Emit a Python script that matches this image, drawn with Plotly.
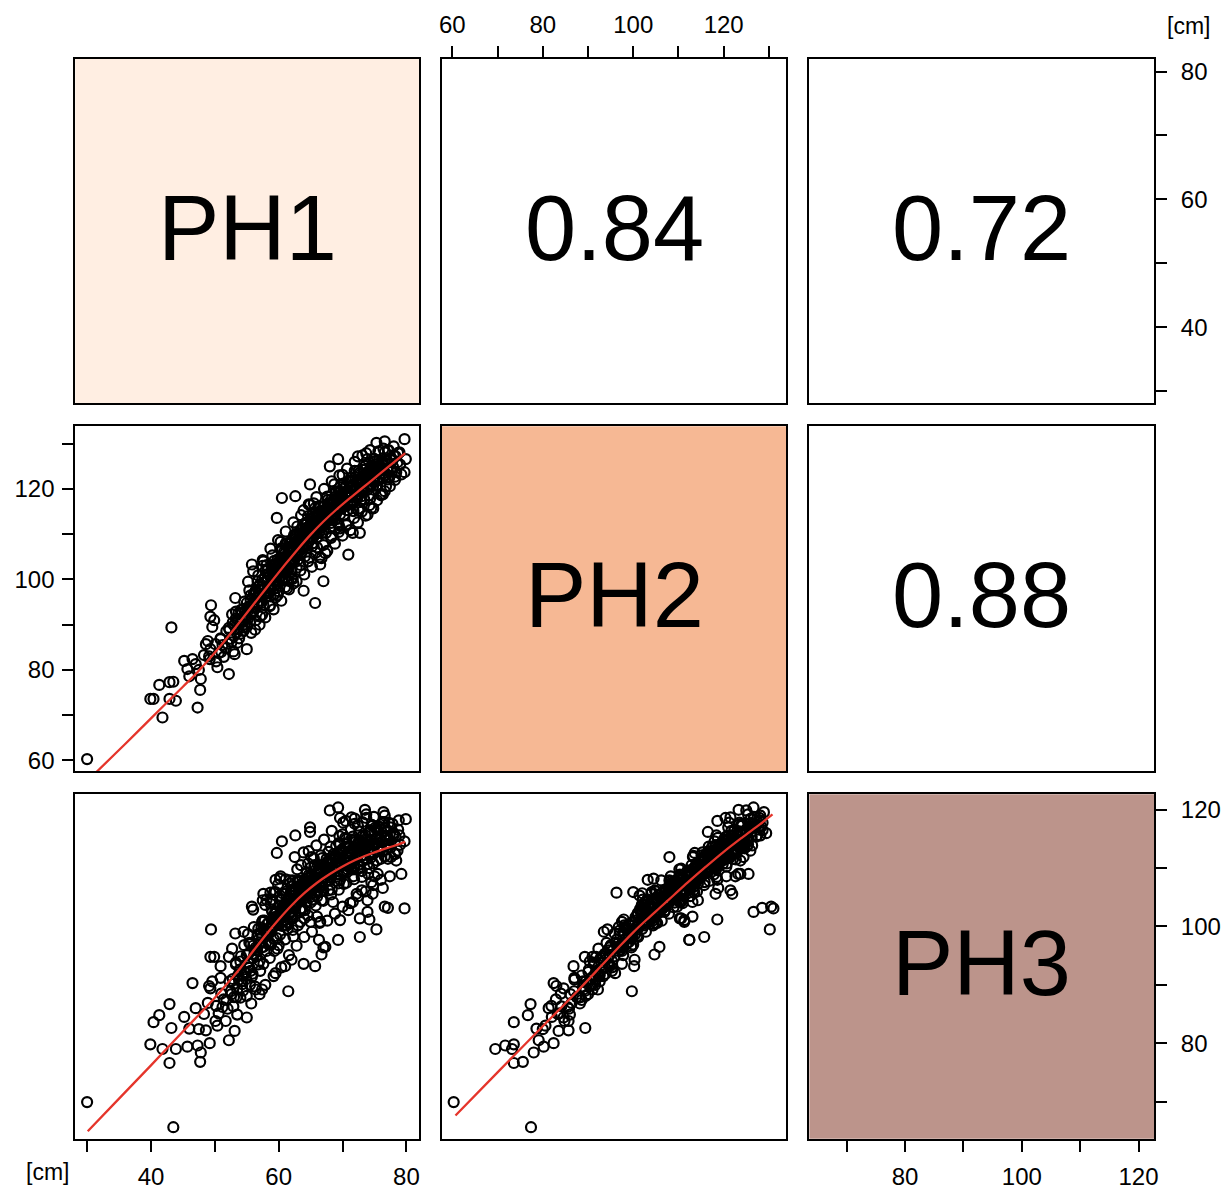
import plotly.graph_objects as go

# ---------------- data (cm), one tuple per plant: (PH1, PH2, PH3) ----------------
tail_obs = [
    (30.0, 60.3, 69.9), (43.5, 77.4, 65.6), (39.9, 73.6, 79.8), (40.4, 73.6, 83.6),
    (41.3, 76.7, 84.8), (41.8, 69.5, 79.0), (42.9, 77.3, 86.7), (42.9, 73.6, 76.6),
    (43.9, 73.2, 79.0), (43.2, 89.4, 82.6), (45.2, 82.0, 84.5), (46.5, 82.4, 90.3),
    (47.3, 71.7, 79.6), (47.7, 75.6, 76.8), (45.7, 80.2, 79.4), (47.8, 78.0, 78.4),
    (47.0, 81.3, 86.0), (49.2, 82.4, 80.0), (48.6, 85.7, 82.2), (47.5, 80.0, 82.4),
    (46.0, 78.6, 82.5), (50.1, 85.7, 83.8), (49.4, 94.3, 99.5), (49.3, 91.8, 94.8),
    (49.1, 83.0, 89.8), (49.3, 84.6, 89.4), (50.9, 87.0, 91.2), (48.3, 83.3, 85.0),
    (48.9, 86.4, 86.9), (49.9, 91.0, 94.8), (50.4, 80.6, 83.0), (49.6, 89.5, 90.6),
]
low_obs = [
    (52.2, 79.1, 80.5), (53.1, 83.5, 82.1), (55.0, 84.6, 84.4), (53.5, 86.0, 84.9),
    (51.7, 84.8, 83.8), (54.0, 88.0, 87.8), (55.0, 89.5, 88.1), (56.4, 91.0, 89.2),
    (57.4, 92.2, 89.2), (53.2, 95.9, 98.8), (54.5, 93.5, 99.1), (56.1, 96.8, 99.9),
    (57.4, 97.5, 100.8), (55.8, 103.3, 103.4), (57.6, 104.0, 105.6), (52.7, 92.3, 96.2),
    (52.2, 89.3, 94.8), (54.0, 90.4, 94.0), (55.3, 94.0, 95.4), (50.9, 86.8, 93.2),
    (51.2, 85.5, 86.2), (51.8, 88.6, 87.4), (52.5, 86.9, 88.9), (53.0, 89.9, 90.2),
    (53.6, 91.2, 91.5), (54.2, 92.6, 90.6), (54.7, 90.1, 92.2), (55.2, 93.1, 93.0),
    (55.6, 95.3, 92.4), (56.0, 92.8, 94.6), (56.3, 97.2, 96.0), (56.8, 94.6, 93.5),
    (57.1, 99.0, 97.3), (50.6, 83.7, 85.1), (51.4, 82.9, 87.5), (52.0, 85.8, 85.9),
    (52.9, 84.1, 86.3), (53.4, 88.3, 87.9), (53.8, 87.0, 90.9), (54.4, 89.4, 89.0),
    (54.9, 91.8, 91.0), (55.5, 90.6, 90.0), (55.9, 93.9, 91.9), (56.5, 95.9, 94.9),
    (56.9, 96.4, 97.8), (57.3, 94.8, 96.4), (50.2, 81.9, 86.4), (51.0, 84.0, 88.5),
    (53.3, 92.9, 93.8), (54.6, 95.1, 96.8), (55.4, 97.6, 97.2), (56.7, 99.6, 98.6),
    (55.7, 88.2, 86.8), (57.0, 90.0, 88.4),
]
mid_obs = [
    (57.3, 98.3, 99.8), (57.6, 94.4, 93.6), (57.9, 101.9, 103.7), (58.1, 97.5, 95.8),
    (58.4, 101.2, 100.6), (58.6, 94.1, 97.2), (58.8, 100.0, 96.9), (59.0, 105.3, 104.6),
    (59.2, 97.9, 101.2), (59.4, 102.3, 100.6), (59.6, 99.8, 100.7), (59.8, 104.4, 100.5),
    (60.0, 97.4, 96.8), (60.2, 102.1, 104.6), (60.3, 108.3, 108.6), (60.5, 99.7, 100.1),
    (60.7, 104.9, 101.6), (60.9, 102.7, 103.7), (61.1, 108.0, 105.6), (61.3, 98.0, 100.2),
    (61.5, 105.3, 100.6), (61.6, 102.7, 102.0), (61.8, 108.3, 107.4), (62.0, 101.8, 102.6),
    (62.2, 106.2, 107.9), (62.3, 99.1, 98.3), (62.5, 108.9, 103.3), (62.7, 105.1, 104.8),
    (62.9, 111.7, 107.7), (63.0, 104.4, 100.2), (63.2, 108.2, 107.7), (63.4, 103.2, 102.7),
    (63.6, 111.1, 105.3), (63.7, 107.8, 106.7), (63.9, 115.3, 112.7), (64.1, 105.1, 102.8),
    (64.3, 110.6, 104.2), (64.4, 107.5, 105.6), (64.6, 114.0, 110.8), (64.8, 104.8, 106.2),
    (65.0, 110.9, 105.6), (65.1, 113.2, 111.9), (65.3, 108.0, 104.6), (65.5, 116.8, 111.7),
    (65.6, 110.3, 108.5), (65.8, 113.5, 105.8), (66.0, 107.1, 105.1), (66.2, 113.2, 109.8),
    (66.4, 110.6, 109.9), (66.5, 116.1, 109.7), (66.7, 110.2, 104.5), (66.9, 112.9, 110.5),
    (57.5, 103.0, 104.5), (58.0, 96.1, 97.2), (58.9, 102.5, 102.9), (59.3, 96.7, 95.8),
    (59.9, 102.1, 101.4), (60.4, 106.9, 102.5), (60.6, 102.0, 105.7), (61.0, 105.7, 103.9),
    (61.4, 102.0, 99.6), (61.9, 106.5, 105.9), (62.4, 109.8, 105.3), (62.8, 102.6, 104.1),
    (63.3, 109.7, 106.7), (63.8, 107.0, 102.8), (64.2, 112.5, 107.5), (64.7, 110.5, 108.8),
    (65.2, 107.3, 106.4), (65.7, 115.8, 110.4), (66.1, 111.6, 105.9), (66.6, 115.1, 112.2),
    (67.0, 111.9, 108.4), (63.5, 108.1, 105.5), (64.0, 110.6, 105.7), (64.5, 109.1, 106.8),
    (65.4, 112.0, 107.7), (65.9, 110.1, 107.4), (66.3, 112.6, 107.0), (62.1, 105.3, 104.1),
    (62.6, 107.5, 104.2), (61.2, 104.5, 104.0), (60.8, 101.9, 102.1), (60.1, 103.1, 101.7),
    (59.5, 100.5, 101.6), (63.1, 106.3, 105.7), (64.9, 110.5, 106.3), (65.0, 113.5, 110.1),
    (66.8, 113.6, 107.6), (61.7, 106.8, 103.3),
]
mid_extra_obs = [
    (64.9, 121.0, 117.0), (62.6, 118.4, 115.6), (60.5, 118.0, 114.6), (59.7, 113.6, 112.6),
    (64.9, 116.5, 116.2), (66.5, 103.3, 100.8), (67.0, 99.6, 96.4), (65.7, 94.8, 93.2),
    (59.5, 96.0, 92.0), (61.5, 99.7, 88.9), (61.0, 100.2, 93.2), (63.9, 97.5, 93.6),
    (67.3, 105.8, 96.5), (66.7, 104.7, 95.2), (62.0, 100.3, 94.3), (64.0, 110.6, 101.4),
    (65.0, 111.3, 100.8), (66.0, 113.1, 101.7), (66.3, 112.4, 97.7), (58.7, 96.3, 105.8),
    (59.5, 100.0, 105.9), (60.2, 101.4, 105.3), (59.5, 103.2, 108.0), (60.2, 104.5, 108.2),
    (62.5, 108.0, 111.9),
]
core_obs = [
    (58.2, 99.5, 99.0), (58.5, 97.0, 98.8), (59.1, 101.0, 100.2), (59.7, 99.0, 98.0),
    (60.0, 103.4, 103.5), (60.4, 100.9, 101.9), (60.8, 104.0, 101.9), (61.2, 102.2, 103.2),
    (61.5, 106.0, 104.9), (61.9, 103.6, 101.6), (62.1, 107.1, 106.0), (62.4, 104.2, 103.9),
    (62.7, 107.9, 104.1), (63.0, 105.6, 105.4), (63.3, 108.9, 106.9), (63.6, 106.0, 103.1),
    (63.9, 110.0, 107.1), (64.2, 107.8, 106.2), (64.5, 111.5, 106.2), (64.8, 109.0, 107.3),
    (65.1, 112.3, 108.9), (65.4, 109.3, 104.6), (65.7, 113.0, 107.4), (66.0, 110.9, 108.2),
    (66.3, 114.2, 110.0), (66.6, 111.4, 106.0), (66.9, 114.6, 108.3), (67.2, 112.1, 108.5),
    (67.5, 115.8, 111.6), (67.8, 113.9, 107.9), (68.1, 116.4, 109.3), (68.4, 114.1, 110.8),
    (68.7, 117.3, 111.9), (69.0, 114.6, 108.5), (69.3, 118.1, 110.3), (69.6, 115.9, 111.9),
    (69.9, 118.9, 113.2), (70.2, 116.1, 109.2), (70.5, 119.4, 112.0), (70.8, 117.0, 112.6),
    (71.1, 120.3, 111.9), (71.4, 117.4, 110.0), (71.7, 121.0, 114.7), (72.0, 118.2, 111.9),
    (72.3, 121.7, 112.6), (72.6, 118.9, 110.6), (72.9, 122.4, 115.3), (73.2, 119.6, 111.3),
    (73.5, 123.0, 113.3), (73.8, 120.3, 113.9), (74.1, 123.8, 116.1), (74.4, 120.9, 111.8),
    (74.7, 124.5, 114.2), (75.0, 121.8, 114.1), (75.4, 125.0, 116.6), (75.8, 122.4, 112.9),
    (76.2, 125.3, 114.6), (76.6, 123.0, 115.6), (77.0, 126.2, 115.4), (77.5, 124.1, 113.5),
    (61.0, 104.8, 102.4), (62.3, 106.3, 105.7), (63.5, 109.5, 104.8), (64.6, 110.0, 108.3),
    (65.9, 112.7, 106.9), (67.0, 113.4, 109.9), (68.2, 115.5, 108.9), (69.5, 117.0, 112.3),
    (70.6, 118.2, 110.4), (71.8, 119.6, 113.1), (73.0, 121.0, 112.2), (74.3, 122.6, 114.9),
    (75.6, 123.9, 113.4), (59.4, 101.8, 102.3), (60.6, 102.9, 100.8), (62.0, 104.6, 102.0),
    (63.2, 107.4, 104.5), (64.0, 109.2, 107.8), (65.3, 111.0, 106.4), (66.5, 112.9, 109.3),
]
core2_obs = [
    (52.3, 88.9, 90.6), (52.6, 86.1, 88.4), (52.8, 90.5, 91.0), (53.0, 87.5, 87.9),
    (53.3, 91.4, 93.5), (53.5, 89.0, 89.2), (53.7, 92.6, 91.7), (53.9, 90.2, 92.6),
    (54.1, 93.3, 94.9), (54.3, 91.0, 90.1), (54.5, 88.6, 91.6), (54.8, 92.1, 92.0),
    (55.0, 94.8, 95.1), (55.2, 91.3, 93.8), (55.4, 93.8, 92.9), (55.6, 96.5, 97.0),
    (55.8, 92.4, 91.4), (56.0, 95.0, 96.7), (56.2, 93.7, 95.3), (56.4, 97.6, 96.4),
    (56.6, 94.6, 95.9), (56.8, 98.4, 99.6), (57.0, 95.3, 94.1), (57.2, 97.8, 98.9),
    (57.4, 99.9, 98.2), (57.6, 96.6, 96.5), (57.8, 100.4, 101.0), (58.0, 97.0, 99.3),
    (58.2, 102.0, 100.4), (58.4, 98.5, 97.0),
    (58.6, 100.9, 99.5), (58.8, 98.2, 99.9), (59.0, 101.7, 102.5), (59.2, 99.6, 97.9),
    (59.4, 103.4, 101.6), (59.6, 101.0, 102.3), (59.8, 99.1, 100.4), (60.0, 103.9, 101.1),
    (60.2, 100.4, 98.6), (60.4, 104.6, 104.7), (60.6, 101.5, 103.0), (60.8, 106.0, 103.5),
    (61.0, 102.4, 100.2), (61.2, 105.1, 106.0), (61.4, 107.2, 104.3), (61.6, 103.3, 104.4),
    (61.8, 105.8, 102.4), (62.0, 108.1, 106.9), (62.2, 104.0, 101.4), (62.4, 106.9, 106.2),
    (62.6, 109.5, 104.8), (62.8, 105.2, 104.9), (63.0, 108.0, 106.8), (63.2, 110.2, 107.9),
    (63.4, 106.4, 103.0), (63.6, 109.0, 107.3), (63.8, 111.3, 106.4), (64.0, 107.1, 105.9),
    (64.2, 110.1, 104.9), (64.4, 112.2, 109.3), (64.6, 108.4, 106.9), (64.8, 111.0, 108.4),
    (65.0, 109.2, 104.1), (65.2, 112.8, 108.0), (65.4, 110.2, 107.6), (65.6, 114.0, 110.5),
    (65.8, 111.7, 106.1), (66.0, 109.3, 107.7), (66.2, 114.5, 109.6), (66.4, 112.0, 109.1),
    (66.6, 113.4, 106.8), (66.8, 115.2, 111.7), (67.0, 111.0, 106.2), (67.2, 116.4, 110.2),
    (67.4, 114.5, 109.6),
    (67.6, 112.9, 108.0), (67.8, 116.9, 112.8), (68.0, 114.8, 108.4), (68.2, 117.6, 111.0),
    (68.4, 113.6, 109.5), (68.6, 116.1, 112.4), (68.8, 118.2, 110.3), (69.0, 115.0, 111.2),
    (69.2, 117.8, 108.9), (69.4, 119.5, 114.3), (69.6, 114.4, 108.0), (69.8, 118.0, 112.9),
    (70.0, 115.9, 109.5), (70.2, 120.1, 111.4), (70.4, 117.5, 113.6), (70.6, 121.0, 115.0),
    (70.8, 116.4, 109.8), (71.0, 119.0, 110.9), (71.2, 121.9, 113.0), (71.4, 118.6, 112.5),
    (71.6, 120.6, 115.4), (71.8, 117.1, 110.0), (72.0, 122.6, 114.5), (72.2, 120.0, 112.0),
    (72.4, 118.3, 109.8), (72.6, 123.5, 116.3), (72.8, 121.1, 113.0), (73.0, 119.4, 113.9),
    (73.3, 124.2, 114.3), (73.6, 121.9, 115.6), (73.9, 119.8, 110.7), (74.2, 122.9, 112.7),
    (74.5, 125.1, 116.4), (74.8, 122.0, 112.4), (75.1, 124.4, 114.2), (75.4, 121.8, 115.0),
    (75.7, 126.4, 117.1), (76.0, 124.6, 113.4), (76.3, 122.3, 112.9), (76.7, 125.6, 116.8),
    (77.1, 123.9, 114.1), (77.5, 126.8, 117.0), (77.9, 124.9, 115.9), (78.3, 127.2, 115.4),
    (79.0, 125.4, 114.0),
]
spread_obs = [
    (55.2, 99.5, 98.7), (56.0, 101.8, 102.9), (56.8, 100.9, 98.4), (57.5, 104.3, 101.0),
    (58.1, 103.2, 104.6), (58.7, 106.8, 103.9), (59.3, 104.1, 105.9), (59.9, 108.7, 107.2),
    (60.5, 106.4, 103.2), (61.1, 110.6, 108.1), (61.7, 108.0, 107.9), (62.3, 112.6, 106.4),
    (62.9, 110.2, 109.8), (63.5, 114.2, 110.5), (64.1, 112.1, 106.9), (64.7, 116.6, 112.9),
    (65.3, 114.3, 108.7), (65.9, 118.2, 113.9), (66.5, 115.9, 110.0), (67.1, 120.0, 114.9),
    (67.7, 117.6, 111.2), (68.3, 121.7, 116.4), (68.9, 119.4, 112.1), (69.5, 123.0, 115.5),
    (70.1, 121.2, 117.8), (70.7, 124.5, 114.1), (71.3, 122.4, 116.6), (71.9, 126.0, 118.5),
    (72.5, 124.0, 114.4), (73.1, 127.4, 117.9), (73.7, 125.4, 119.2), (74.3, 128.6, 116.5),
    (74.9, 126.7, 118.8), (75.6, 128.3, 117.1), (76.4, 128.9, 119.6), (77.2, 128.6, 117.8),
    (78.0, 129.4, 116.0), (78.8, 128.0, 118.2),
    (56.3, 88.9, 89.7), (57.1, 91.8, 92.4), (57.9, 91.6, 90.0), (58.6, 94.3, 94.6),
    (59.2, 93.4, 91.5), (59.8, 96.5, 96.2), (60.4, 95.3, 93.0), (61.0, 98.3, 97.8),
    (61.6, 97.8, 95.1), (62.2, 100.1, 99.4), (62.8, 99.6, 96.7), (63.4, 102.0, 100.8),
    (64.0, 101.1, 98.2), (64.6, 104.0, 101.9), (65.2, 102.8, 99.1), (65.8, 105.9, 103.6),
    (66.4, 104.9, 100.6), (67.0, 107.6, 104.4), (67.6, 106.3, 101.0), (68.2, 109.2, 105.5),
    (68.8, 107.9, 102.2), (69.4, 110.5, 106.3), (70.0, 109.7, 103.4), (70.6, 112.2, 107.5),
    (71.2, 110.9, 104.0), (71.8, 113.6, 108.1), (72.4, 112.6, 105.2), (73.0, 115.0, 109.5),
    (73.6, 114.1, 106.0), (74.2, 116.4, 110.0), (74.8, 115.7, 107.1), (75.4, 117.5, 111.3),
    (76.0, 118.6, 108.0), (76.6, 119.5, 112.0), (77.4, 120.6, 108.6), (78.2, 122.0, 112.4),
    (79.2, 123.2, 109.0),
]
upper_obs = [
    (67.2, 115.0, 110.5), (67.4, 110.3, 108.9), (67.6, 118.3, 110.8), (67.8, 113.3, 106.2),
    (68.1, 116.7, 113.7), (68.3, 109.6, 106.3), (68.5, 115.4, 111.4), (68.7, 121.0, 111.9),
    (68.9, 113.3, 112.1), (69.1, 116.8, 107.8), (69.4, 112.0, 107.4), (69.6, 119.2, 114.1),
    (69.8, 115.6, 110.6), (70.0, 123.1, 115.8), (70.2, 114.3, 107.3), (70.4, 118.7, 115.2),
    (70.6, 112.0, 109.6), (70.8, 118.0, 110.9), (71.0, 121.6, 113.8), (71.2, 116.7, 111.8),
    (71.4, 120.6, 110.3), (71.7, 115.1, 108.6), (71.9, 124.0, 117.6), (72.1, 118.8, 113.6),
    (72.3, 121.3, 111.8), (72.5, 115.2, 110.6), (72.8, 123.2, 114.5), (73.0, 118.4, 108.5),
    (73.2, 121.2, 115.6), (73.4, 117.7, 111.7), (73.6, 125.1, 113.7), (73.8, 120.6, 114.8),
    (74.1, 124.0, 114.5), (74.3, 117.8, 112.4), (74.6, 123.3, 117.4), (74.8, 120.7, 110.8),
    (75.1, 126.1, 116.9), (75.4, 120.7, 114.3), (75.7, 124.2, 113.8), (76.0, 118.9, 111.6),
    (76.2, 125.9, 117.7), (76.5, 123.5, 117.8), (76.9, 126.3, 113.9), (77.3, 122.5, 114.8),
    (77.8, 126.3, 117.6), (78.2, 122.7, 112.5), (78.7, 127.9, 116.6), (67.5, 113.8, 109.3),
    (68.0, 115.2, 109.1), (68.6, 113.8, 110.1), (69.2, 116.1, 110.5), (69.7, 118.5, 112.6),
    (70.3, 116.5, 109.4), (70.9, 119.2, 112.5), (71.5, 117.5, 112.6), (72.0, 119.6, 111.5),
    (72.6, 122.1, 114.8), (73.3, 120.1, 112.9), (74.0, 122.2, 113.2), (74.9, 121.5, 114.1),
    (75.9, 124.0, 115.0), (77.0, 124.6, 114.9), (68.2, 112.5, 108.6), (69.0, 119.3, 113.8),
    (70.7, 115.3, 110.4), (71.3, 118.3, 109.9), (72.9, 117.5, 113.7), (73.7, 122.7, 111.5),
    (74.4, 120.5, 113.2), (75.3, 125.5, 115.1),
]
upper_extra_obs = [
    (69.3, 126.6, 120.4), (68.0, 125.0, 119.9), (73.5, 123.3, 120.0), (76.6, 128.1, 119.0),
    (79.9, 126.6, 118.4), (71.4, 121.5, 118.7), (69.6, 120.4, 118.6), (73.7, 127.9, 118.6),
    (70.5, 118.6, 118.1), (79.7, 131.0, 103.1), (76.6, 130.5, 103.4), (75.3, 130.2, 99.5),
    (77.1, 128.5, 103.2), (73.9, 126.6, 102.5), (79.7, 123.7, 114.6), (78.4, 123.7, 111.3),
    (78.6, 125.9, 113.0), (77.6, 124.4, 111.9), (76.8, 120.6, 115.4), (77.1, 122.1, 111.6),
    (75.8, 125.2, 115.0), (76.3, 118.8, 106.6), (74.5, 115.8, 107.6), (75.0, 122.6, 108.6),
    (74.7, 121.9, 105.6), (73.9, 114.3, 104.5), (72.7, 110.3, 101.4), (71.6, 110.3, 104.2),
    (70.9, 105.5, 102.8), (69.6, 111.3, 101.1), (68.5, 113.1, 104.2), (72.2, 118.2, 105.6),
    (74.2, 118.6, 101.2), (69.3, 112.4, 97.7), (72.7, 115.7, 98.2), (78.0, 127.4, 115.6),
    (78.9, 128.1, 115.6), (75.5, 125.5, 109.0), (74.0, 123.7, 109.0), (73.0, 121.5, 106.2),
    (72.4, 127.2, 117.3), (74.7, 124.1, 117.3), (75.0, 126.1, 116.2), (76.6, 126.5, 117.0),
]

all_obs = (tail_obs + low_obs + mid_obs + mid_extra_obs + core_obs + core2_obs
           + spread_obs + upper_obs + upper_extra_obs)
PH1 = [o[0] for o in all_obs]
PH2 = [o[1] for o in all_obs]
PH3 = [o[2] for o in all_obs]
values = {"PH1": PH1, "PH2": PH2, "PH3": PH3}

var_names = ["PH1", "PH2", "PH3"]
corr_labels = {(1, 2): "0.84", (1, 3): "0.72", (2, 3): "0.88"}
unit_label = "[cm]"

# smoother curves (x var, y var)
smooth_21_x = [30.0, 31.5, 36.0, 40.0, 45.0, 47.0, 49.0, 51.0, 53.0, 55.0, 57.0, 59.0, 61.0,
               63.0, 65.0, 67.0, 69.0, 71.0, 73.0, 75.0, 77.0, 79.8]
smooth_21_y = [55.4, 57.5, 63.7, 69.3, 76.3, 79.1, 82.2, 85.5, 89.0, 92.6, 96.2, 99.8, 103.3,
               106.7, 109.9, 112.8, 115.4, 117.8, 120.1, 122.4, 124.7, 127.9]
smooth_31_x = [30.1, 35.0, 40.0, 45.0, 50.0, 52.0, 54.0, 56.0, 58.0, 60.0, 62.0, 64.0, 66.0,
               68.0, 70.0, 72.0, 74.0, 76.0, 78.0, 79.8]
smooth_31_y = [64.9, 70.5, 76.2, 82.0, 87.8, 90.3, 92.9, 95.8, 98.6, 101.2, 103.6, 105.7, 107.5,
               109.0, 110.3, 111.4, 112.3, 113.1, 113.8, 114.5]
smooth_32_x = [60.7, 70.0, 80.0, 88.0, 93.0, 97.0, 100.0, 103.0, 106.0, 109.0, 112.0, 116.0,
               120.0, 124.0, 128.0, 130.8]
smooth_32_y = [67.6, 75.0, 82.9, 89.2, 93.3, 96.6, 99.0, 101.2, 103.3, 105.4, 107.5, 110.2,
               112.8, 115.2, 117.5, 119.2]
smooth = {(2, 1): (smooth_21_x, smooth_21_y),
          (3, 1): (smooth_31_x, smooth_31_y),
          (3, 2): (smooth_32_x, smooth_32_y)}

axis_ranges = {"PH1": [28.15, 81.95], "PH2": [57.65, 133.85], "PH3": [63.6, 122.65]}
tick_vals = {"PH1": [30, 40, 50, 60, 70, 80],
             "PH2": [60, 70, 80, 90, 100, 110, 120, 130],
             "PH3": [70, 80, 90, 100, 110, 120]}
tick_text = {"PH1": ["", "40", "", "60", "", "80"],
             "PH2": ["60", "", "80", "", "100", "", "120", ""],
             "PH3": ["", "80", "", "100", "", "120"]}

# ---------------- styling / geometry ----------------
diag_fill = {"PH1": "#FFEEE2", "PH2": "#F6B894", "PH3": "#BC948B"}
smooth_color = "#E5352B"
FONT = "Liberation Sans, Arial, Helvetica, sans-serif"
W, H = 1229, 1193
col_px = [(72.7, 418.3), (441.2, 787.8), (811.0, 1157.6)]
row_px = [(58.3, 403.3), (426.7, 772.7), (796.0, 1141.7)]
x_tick_side = {(1, 2): "top", (3, 1): "bottom", (3, 3): "bottom"}
y_tick_side = {(1, 3): "right", (2, 1): "left", (3, 3): "right"}

fig = go.Figure()
layout_axes = {}
annotations = []
shapes = []

for r in range(1, 4):
    for c in range(1, 4):
        idx = (r - 1) * 3 + c
        xn = "x" if idx == 1 else f"x{idx}"
        yn = "y" if idx == 1 else f"y{idx}"
        xvar, yvar = var_names[c - 1], var_names[r - 1]
        xd = [col_px[c - 1][0] / W, col_px[c - 1][1] / W]
        yd = [1 - row_px[r - 1][1] / H, 1 - row_px[r - 1][0] / H]
        base = dict(showgrid=False, zeroline=False, showline=True, mirror=True,
                    linecolor="black", linewidth=2, ticks="", showticklabels=False,
                    fixedrange=True)
        xa = dict(base, domain=xd, range=axis_ranges[xvar], anchor=yn)
        ya = dict(base, domain=yd, range=axis_ranges[yvar], anchor=xn)
        tick_style = dict(ticks="outside", ticklen=11, tickwidth=1.5, tickcolor="black",
                          tickmode="array", showticklabels=True,
                          tickfont=dict(size=24, family=FONT, color="black"))
        if (r, c) in x_tick_side:
            xa.update(tick_style, side=x_tick_side[(r, c)], ticklabelstandoff=4,
                      tickvals=tick_vals[xvar], ticktext=tick_text[xvar])
        if (r, c) in y_tick_side:
            side = y_tick_side[(r, c)]
            ya.update(tick_style, side=side, ticklabelstandoff=(9 if side == "right" else 3),
                      tickvals=tick_vals[yvar], ticktext=tick_text[yvar])
        layout_axes["xaxis" if idx == 1 else f"xaxis{idx}"] = xa
        layout_axes["yaxis" if idx == 1 else f"yaxis{idx}"] = ya

        if r == c:
            shapes.append(dict(type="rect", xref=f"{xn} domain", yref=f"{yn} domain",
                               x0=0, x1=1, y0=0, y1=1, fillcolor=diag_fill[xvar],
                               line=dict(width=0), layer="below"))
            annotations.append(dict(text=xvar, xref=f"{xn} domain", yref=f"{yn} domain",
                                    x=0.5, y=0.51, xanchor="center", yanchor="middle",
                                    showarrow=False,
                                    font=dict(size=92, family=FONT, color="black")))
        elif r < c:
            annotations.append(dict(text=corr_labels[(r, c)], xref=f"{xn} domain",
                                    yref=f"{yn} domain", x=0.5, y=0.51,
                                    xanchor="center", yanchor="middle", showarrow=False,
                                    font=dict(size=92, family=FONT, color="black")))
        if r <= c:
            # empty trace so that the panel frame and its axes are drawn
            fig.add_trace(go.Scatter(x=[None], y=[None], mode="markers", xaxis=xn, yaxis=yn,
                                     showlegend=False, hoverinfo="skip"))
        else:
            fig.add_trace(go.Scatter(
                x=values[xvar], y=values[yvar], mode="markers", xaxis=xn, yaxis=yn,
                marker=dict(symbol="circle-open", size=10, color="black",
                            line=dict(width=2.2, color="black")),
                showlegend=False, hoverinfo="skip"))
            sx, sy = smooth[(r, c)]
            fig.add_trace(go.Scatter(
                x=sx, y=sy, mode="lines", xaxis=xn, yaxis=yn,
                line=dict(color=smooth_color, width=2.3, shape="spline", smoothing=1.0),
                showlegend=False, hoverinfo="skip"))

annotations.append(dict(text=unit_label, xref="paper", yref="paper",
                        x=1192 / W, y=1 - 25 / H, xanchor="center", yanchor="middle",
                        showarrow=False, font=dict(size=23, family=FONT, color="black")))
annotations.append(dict(text=unit_label, xref="paper", yref="paper",
                        x=45 / W, y=1 - 1175 / H, xanchor="center", yanchor="middle",
                        showarrow=False, font=dict(size=23, family=FONT, color="black")))

fig.update_layout(width=W, height=H, margin=dict(l=0, r=0, t=0, b=0, pad=0),
                  paper_bgcolor="white", plot_bgcolor="white",
                  font=dict(family=FONT, color="black"),
                  annotations=annotations, shapes=shapes, **layout_axes)

fig.write_html("out.html", config={"displayModeBar": False},
               post_script="document.body.style.margin='0px';document.body.style.overflow='hidden';")
